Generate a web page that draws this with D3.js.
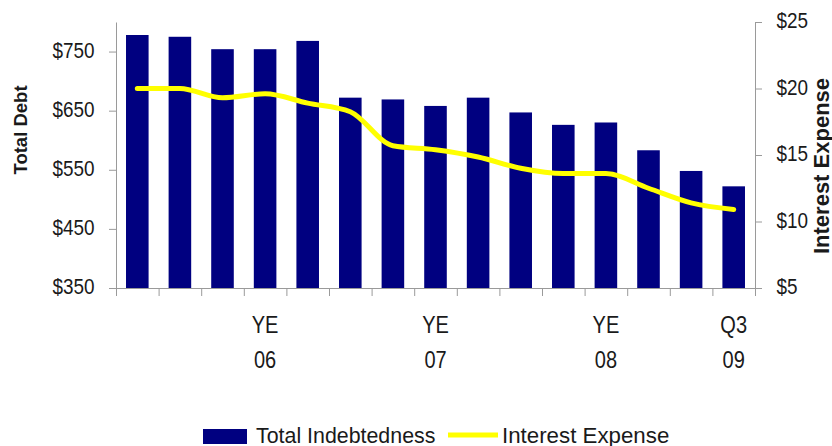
<!DOCTYPE html>
<html>
<head>
<meta charset="utf-8">
<script src="https://cdn.jsdelivr.net/npm/d3@7"></script>
<style>
  body { margin: 0; background: #fff; }
  svg text { font-family: "Liberation Sans", Arial, sans-serif; fill: #1a1a1a; }
</style>
</head>
<body>
<svg width="832" height="446"></svg>
<script>
// DATA
const quarters = ["Q1 06", "Q2 06", "Q3 06", "Q4 06", "Q1 07", "Q2 07", "Q3 07", "Q4 07",
                  "Q1 08", "Q2 08", "Q3 08", "Q4 08", "Q1 09", "Q2 09", "Q3 09"];
const tickLabels = ["", "", "", "YE|06", "", "", "", "YE|07", "", "", "", "YE|08", "", "", "Q3|09"];
const totalDebt = [778, 775, 754, 754, 768, 672, 669, 658, 672, 647, 626, 630, 583, 548, 522];
const interestExpense = [20.0, 20.0, 19.3, 19.6, 18.9, 18.25, 15.7, 15.4, 14.85, 14.0, 13.6, 13.6, 12.5, 11.4, 10.9];
const debtTicks = [350, 450, 550, 650, 750];
const interestTicks = [5, 10, 15, 20, 25];

const svg = d3.select("svg");

const plotLeft = 116, plotRight = 755, plotTop = 22, plotBottom = 288;
const navy = "#000080";
const yellow = "#ffff00";
const axisColor = "#9a9a9a";

const x = d3.scaleBand()
  .domain(quarters)
  .range([plotLeft, plotRight])
  .paddingInner(0.47)
  .paddingOuter(0.235);

const yDebt = d3.scaleLinear().domain([350, 800]).range([plotBottom, plotTop]);
const yInt = d3.scaleLinear().domain([5, 25]).range([plotBottom, plotTop]);

// bars
svg.append("g")
  .selectAll("rect")
  .data(totalDebt)
  .join("rect")
  .attr("x", (d, i) => x(quarters[i]))
  .attr("y", d => yDebt(d))
  .attr("width", x.bandwidth())
  .attr("height", d => plotBottom - yDebt(d))
  .attr("fill", navy);

// interest line
const line = d3.line()
  .x((d, i) => x(quarters[i]) + x.bandwidth() / 2)
  .y(d => yInt(d))
  .curve(d3.curveMonotoneX);

svg.append("path")
  .datum(interestExpense)
  .attr("d", line)
  .attr("fill", "none")
  .attr("stroke", yellow)
  .attr("stroke-width", 5)
  .attr("stroke-linejoin", "round")
  .attr("stroke-linecap", "round");

function styleAxis(g) {
  g.select(".domain").attr("stroke", axisColor);
  g.selectAll(".tick line").attr("stroke", axisColor);
  g.selectAll("text")
    .attr("font-size", 22)
    .attr("fill", "#1a1a1a")
    .attr("font-family", "Liberation Sans, Arial, sans-serif");
}

// left axis
const leftAxis = svg.append("g")
  .attr("transform", `translate(${plotLeft},0)`)
  .call(d3.axisLeft(yDebt).tickValues(debtTicks).tickFormat(d => "$" + d)
    .tickSize(7).tickSizeOuter(0).tickPadding(18));
styleAxis(leftAxis);
leftAxis.selectAll("text").attr("dy", "0.25em").attr("transform", "scale(0.86,1)");

// right axis
const rightAxis = svg.append("g")
  .attr("transform", `translate(${plotRight},0)`)
  .call(d3.axisRight(yInt).tickValues(interestTicks).tickFormat(d => "$" + d)
    .tickSize(7).tickSizeOuter(0).tickPadding(18));
styleAxis(rightAxis);
rightAxis.selectAll("text").attr("dy", "0.25em").attr("transform", "scale(0.86,1)");

// bottom axis: tick marks at band boundaries
const idx = d3.scaleLinear().domain([0, quarters.length]).range([plotLeft, plotRight]);
const bottomTicks = svg.append("g")
  .attr("transform", `translate(0,${plotBottom})`)
  .call(d3.axisBottom(idx).tickValues(d3.range(quarters.length + 1)).tickFormat("")
    .tickSize(8).tickSizeOuter(0));
styleAxis(bottomTicks);

// bottom labels at band centers
const bottomLabels = svg.append("g")
  .attr("transform", `translate(0,${plotBottom})`)
  .call(d3.axisBottom(x).tickSize(0).tickFormat((d, i) => tickLabels[i]));
bottomLabels.select(".domain").remove();
bottomLabels.selectAll("text").each(function (d, i) {
  const parts = tickLabels[i].split("|");
  const t = d3.select(this)
    .text(null)
    .attr("y", 0)
    .attr("dy", null)
    .attr("font-size", 23)
    .attr("fill", "#1a1a1a")
    .attr("font-family", "Liberation Sans, Arial, sans-serif")
    .attr("transform", "scale(0.87,1)");
  if (parts.length < 2) return;
  t.append("tspan").attr("x", 0).attr("y", 45).text(parts[0]);
  t.append("tspan").attr("x", 0).attr("y", 80).text(parts[1]);
});

// axis titles
svg.append("text")
  .attr("transform", "translate(27,130) rotate(-90)")
  .attr("text-anchor", "middle")
  .attr("font-size", 18.5)
  .attr("font-weight", "bold")
  .text("Total Debt");

svg.append("text")
  .attr("transform", "translate(829,166) rotate(-90)")
  .attr("text-anchor", "middle")
  .attr("font-size", 22)
  .attr("font-weight", "bold")
  .text("Interest Expense");

// legend
const legend = svg.append("g");
legend.append("rect")
  .attr("x", 203).attr("y", 429)
  .attr("width", 44).attr("height", 15)
  .attr("fill", navy);
legend.append("text")
  .attr("transform", "translate(256,443) scale(0.93,1)")
  .attr("font-size", 23)
  .text("Total Indebtedness");
legend.append("line")
  .attr("x1", 448).attr("x2", 498)
  .attr("y1", 435).attr("y2", 435)
  .attr("stroke", yellow)
  .attr("stroke-width", 5);
legend.append("text")
  .attr("transform", "translate(502,443) scale(0.97,1)")
  .attr("font-size", 23)
  .text("Interest Expense");
</script>
</body>
</html>
